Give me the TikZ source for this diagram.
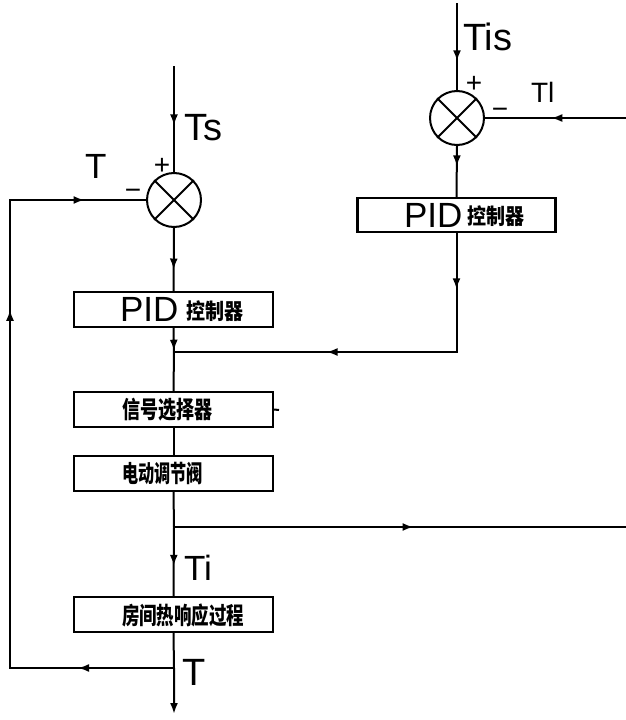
\documentclass[tikz,border=0pt]{standalone}
\usepackage{fontspec}
\setmainfont{Liberation Sans}
\newfontfamily\cjk{Noto Sans CJK SC}
\newcommand\pidf{\fontsize{35}{35}\selectfont}
\newcommand\zhf{\cjk\bfseries\fontsize{19}{19}\selectfont}
\usetikzlibrary{arrows.meta,decorations.markings}
\begin{document}
\begin{tikzpicture}[x=1pt,y=-1pt,
  line width=2pt,
  box/.style={draw,line width=2.2pt,minimum width=199pt,minimum height=35pt,inner sep=0pt},
  sumj/.style={draw,circle,line width=2pt,minimum size=54pt,inner sep=0pt},
  lab/.style={font=\fontsize{38}{38}\selectfont,inner sep=0pt,anchor=base west},
  sgn/.style={font=\fontsize{28}{28}\selectfont,inner sep=0pt},
  txt/.style={inner sep=0pt,anchor=west},
  mtip/.tip={Latex[length=11pt,width=8pt]},
  ar/.style={postaction={decorate},decoration={markings,mark=at position #1 with {\arrow{mtip}}}},
  ar2/.style 2 args={postaction={decorate},decoration={markings,mark=at position #1 with {\arrow{mtip}},mark=at position #2 with {\arrow{mtip}}}},
  ar3/.style n args={3}{postaction={decorate},decoration={markings,mark=at position #1 with {\arrow{mtip}},mark=at position #2 with {\arrow{mtip}},mark=at position #3 with {\arrow{mtip}}}}
]
\useasboundingbox (0,0) rectangle (626,720);

% summing junctions
\node[sumj] (s1) at (174,200) {};
\node[sumj] (s2) at (457,118) {};
\foreach \s in {s1,s2}{
  \draw[line width=1.8pt] (\s.north west) -- (\s.south east);
  \draw[line width=1.8pt] (\s.north east) -- (\s.south west);
}

% boxes
\node[box] (pid1) at (173.5,309.5) {};
\node[box] (sel)  at (173.5,409.5) {};
\node[box] (valve) at (173.5,473.5) {};
\node[box] (room) at (173.5,614.5) {};
\node[box,minimum width=198pt,minimum height=34pt] (pid2) at (456.5,215) {};

% box texts
\node[txt] (pid1a) at (119,309.5) {\pidf PID};
\node[txt] (pid1b) at (185,311) {\zhf\scalebox{1}[1.15]{控制器}};
\node[txt] (pid2a) at (403,215) {\pidf PID};
\node[txt] (pid2b) at (466,216.5) {\zhf\scalebox{1}[1.15]{控制器}};
\node[txt] (selt) at (121,410) {\zhf\scalebox{0.95}[1.25]{信号选择器}};
\node[txt] (valvet) at (121,474) {\zhf\scalebox{0.85}[1.25]{电动调节阀}};
\node[txt] (roomt) at (121,615) {\zhf\scalebox{0.92}[1.25]{房间热响应过程}};

% coordinates
\coordinate (tsin) at (174,66);
\coordinate (tisin) at (457,3);
\coordinate (tlin) at (626,118);
\coordinate (j1) at (174,352);
\coordinate (j2) at (174,527);
\coordinate (j2r) at (626,527);
\coordinate (j3) at (174,668);
\coordinate (out) at (174,714);
\coordinate (fbl) at (10,668);
\coordinate (fbt) at (10,200);
\coordinate (stub) at (279,410);

% connectors
\draw[ar=0.56] (tsin) -- (s1.north);
\draw[ar=0.66] (s1.south) -- (pid1.north);
\draw[ar=0.36] (pid1.south) -- (j1) -- (sel.north);
\draw[ar2={0.14}{0.62}] (pid2.south) |- (j1);
\draw (sel.south) -- (valve.north);
\draw[ar=0.71] (valve.south) -- (j2) -- (room.north);
\draw[ar=0.53] (j2) -- (j2r);
\draw[ar=0.67] (tisin) -- (s2.north);
\draw[ar=0.53] (tlin) -- (s2.east);
\draw[ar=0.4] (s2.south) -- (pid2.north);
\draw[-{Latex[length=11pt,width=8pt]}] (room.south) -- (j3) -- (out);
\draw[ar3={0.125}{0.68}{0.92}] (j3) -- (fbl) -- (fbt) -- (s1.west);
\draw (sel.east) -- (stub);

% labels
\node[lab] (lts) at (183,140) {Ts};
\node[lab,font=\fontsize{35}{35}\selectfont] (lt1) at (84,178) {T};
\node[sgn] (p1) at (162,166) {+};
\node[sgn] (m1) at (133,194) {−};
\node[lab] (ltis) at (462,50) {Tis};
\node[sgn] (p2) at (474,84) {+};
\node[sgn] (m2) at (500,113) {−};
\node[lab,font=\fontsize{28}{28}\selectfont] (ltl) at (530,102) {Tl};
\node[lab,font=\fontsize{35}{35}\selectfont] (lti) at (183,580) {Ti};
\node[lab] (lt2) at (181,685) {T};
\end{tikzpicture}
\end{document}
